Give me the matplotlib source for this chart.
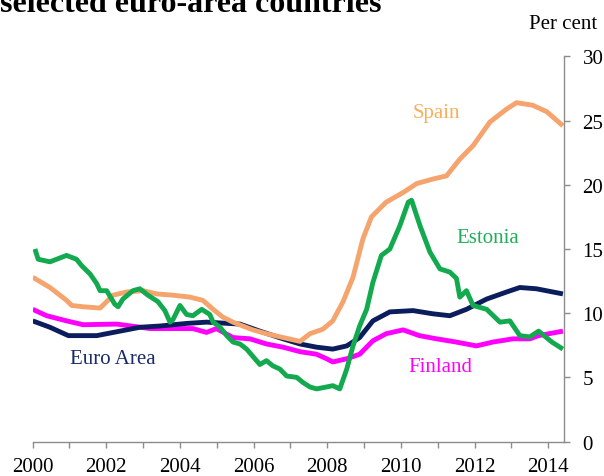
import matplotlib.pyplot as plt

plt.rcParams['font.family'] = ['Liberation Serif', 'DejaVu Serif']

# unemployment rates (year, per cent)
spain_x = [2000.0, 2000.47, 2000.92, 2001.06, 2001.37, 2001.83, 2002.01, 2002.18, 2002.55, 2003.0,
           2003.37, 2003.81, 2004.27, 2004.62, 2004.90, 2005.16, 2005.44, 2005.98, 2006.35, 2006.80,
           2007.26, 2007.53, 2007.88, 2008.15, 2008.43, 2008.70, 2008.97, 2009.20, 2009.60, 2010.06,
           2010.43, 2010.87, 2011.24, 2011.60, 2011.96, 2012.42, 2012.87, 2013.14, 2013.58, 2013.96, 2014.40]
spain_y = [12.8, 12.0, 11.0, 10.6, 10.5, 10.4, 10.9, 11.4, 11.65, 11.75,
           11.5, 11.4, 11.25, 11.0, 10.3, 9.7, 9.3, 8.7, 8.4, 8.1,
           7.8, 8.4, 8.75, 9.4, 10.9, 12.8, 15.8, 17.5, 18.65, 19.4,
           20.1, 20.45, 20.7, 22.0, 23.05, 24.9, 25.9, 26.4, 26.2, 25.7, 24.6]

estonia_x = [2000.06, 2000.15, 2000.47, 2000.92, 2001.19, 2001.33, 2001.56, 2001.74, 2001.83, 2002.01,
             2002.23, 2002.32, 2002.45, 2002.72, 2002.91, 2003.13, 2003.40, 2003.59, 2003.73, 2003.81,
             2004.00, 2004.18, 2004.35, 2004.59, 2004.81, 2004.90, 2005.09, 2005.27, 2005.44, 2005.63,
             2005.81, 2005.99, 2006.17, 2006.35, 2006.52, 2006.71, 2006.90, 2007.17, 2007.34, 2007.53,
             2007.71, 2007.98, 2008.15, 2008.34, 2008.53, 2008.70, 2008.88, 2009.07, 2009.24, 2009.47,
             2009.70, 2009.97, 2010.20, 2010.29, 2010.52, 2010.79, 2011.06, 2011.33, 2011.51, 2011.60,
             2011.78, 2011.96, 2012.33, 2012.69, 2012.96, 2013.23, 2013.50, 2013.74, 2014.10, 2014.40]
estonia_y = [15.0, 14.2, 14.0, 14.5, 14.2, 13.7, 13.05, 12.3, 11.75, 11.75,
             10.7, 10.5, 11.1, 11.75, 11.9, 11.4, 10.9, 10.2, 9.3, 9.5,
             10.6, 9.9, 9.8, 10.3, 9.9, 9.3, 8.9, 8.25, 7.75, 7.6,
             7.2, 6.6, 6.0, 6.3, 5.9, 5.65, 5.1, 5.0, 4.6, 4.25,
             4.1, 4.25, 4.35, 4.1, 5.65, 7.45, 9.0, 10.3, 12.4, 14.5,
             15.0, 16.8, 18.65, 18.8, 16.8, 14.75, 13.45, 13.2, 12.7, 11.25,
             11.75, 10.6, 10.3, 9.3, 9.4, 8.25, 8.15, 8.6, 7.75, 7.2]

euro_x = [2000.0, 2000.47, 2000.97, 2001.74, 2002.37, 2002.91, 2003.46, 2004.18, 2004.72, 2005.63,
          2006.17, 2006.80, 2007.26, 2007.71, 2008.15, 2008.53, 2008.88, 2009.24, 2009.70, 2010.33,
          2010.87, 2011.33, 2011.78, 2012.33, 2012.87, 2013.23, 2013.68, 2014.40]
euro_y = [9.4, 8.9, 8.25, 8.25, 8.6, 8.9, 9.0, 9.2, 9.3, 9.15,
          8.6, 8.0, 7.6, 7.35, 7.2, 7.45, 8.1, 9.4, 10.1, 10.2,
          9.95, 9.8, 10.3, 11.1, 11.65, 12.0, 11.9, 11.5]

finland_x = [2000.0, 2000.38, 2000.92, 2001.37, 2002.28, 2003.19, 2004.35, 2004.72, 2004.99, 2005.44,
             2005.90, 2006.35, 2006.80, 2007.26, 2007.71, 2007.98, 2008.15, 2008.53, 2008.88, 2009.24,
             2009.60, 2010.06, 2010.50, 2010.97, 2011.50, 2012.05, 2012.50, 2013.04, 2013.50, 2013.74, 2014.40]
finland_y = [10.3, 9.8, 9.4, 9.1, 9.15, 8.8, 8.8, 8.5, 8.8, 8.1,
             8.0, 7.6, 7.35, 7.0, 6.8, 6.45, 6.2, 6.45, 6.8, 7.85,
             8.4, 8.7, 8.25, 8.0, 7.75, 7.45, 7.75, 8.0, 8.0, 8.25, 8.6]

major_years = [2000, 2002, 2004, 2006, 2008, 2010, 2012, 2014]
minor_years = [2001, 2003, 2005, 2007, 2009, 2011, 2013]
y_ticks = [0, 5, 10, 15, 20, 25, 30]

fig = plt.figure(figsize=(6.04, 4.77), dpi=100)
ax = fig.add_axes([0.0541, 0.0723, 0.8797, 0.8072])

ax.plot(finland_x, finland_y, color='#FF00FF', lw=3.5, solid_capstyle='butt')
ax.plot(euro_x, euro_y, color='#0B1D5C', lw=3.5, solid_capstyle='butt')
ax.plot(spain_x, spain_y, color='#F4A46C', lw=3.5, solid_capstyle='butt')
ax.plot(estonia_x, estonia_y, color='#13A94F', lw=3.5, solid_capstyle='butt')

ax.text(2010.97, 25.66, 'Spain', color='#F8AE5E', fontsize=15, ha='center', va='center')
ax.text(2012.36, 15.86, 'Estonia', color='#1DAF5A', fontsize=15, ha='center', va='center')
ax.text(2011.06, 5.81, 'Finland', color='#FF00FF', fontsize=15, ha='center', va='center')
ax.text(2002.17, 6.49, 'Euro Area', color='#1A2A68', fontsize=15, ha='center', va='center')

ax.set_xlim(2000, 2014.43)
ax.set_ylim(0, 30)

for s in ['left', 'top']:
    ax.spines[s].set_visible(False)
for s in ['bottom', 'right']:
    ax.spines[s].set_color('#8C8C8C')
    ax.spines[s].set_linewidth(1.0)

ax.yaxis.tick_right()
ax.set_yticks(y_ticks)
ax.set_yticklabels([str(v) for v in y_ticks], family='Liberation Serif')
ax.set_xticks(major_years)
ax.set_xticklabels([str(v) for v in major_years], family='Liberation Serif')
ax.set_xticks(minor_years, minor=True)
ax.tick_params(axis='x', which='both', direction='out', length=4.3, width=1, color='#8C8C8C',
               labelsize=15, pad=7)
ax.tick_params(axis='y', which='both', direction='out', length=4.3, width=1, color='#8C8C8C',
               labelsize=15, pad=9)

fig.text(0.0, 0.975, 'selected euro-area countries', fontsize=23, fontweight='bold',
         ha='left', va='baseline')
fig.text(0.988, 0.939, 'Per cent', fontsize=15, ha='right', va='baseline')

fig.savefig('out.png', dpi=100)
